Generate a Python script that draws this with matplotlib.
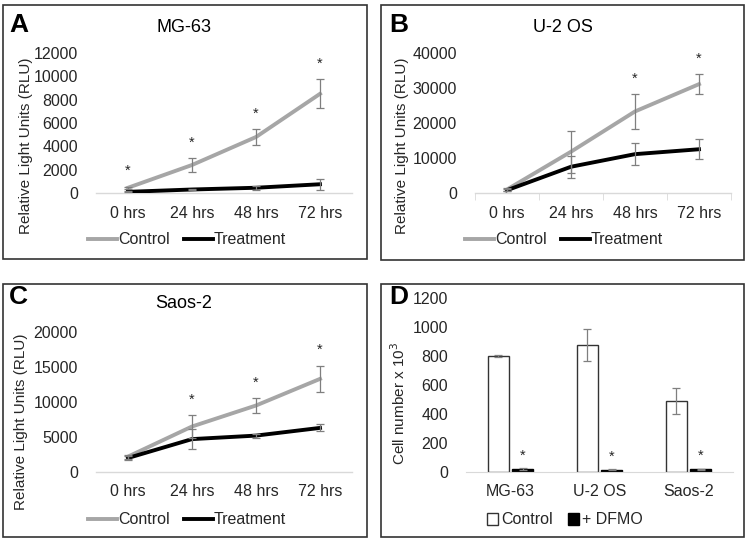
import matplotlib
matplotlib.use("Agg")
import matplotlib.pyplot as plt
from matplotlib.patches import Rectangle, Patch
import numpy as np

plt.rcParams['font.family'] = ['Liberation Sans', 'DejaVu Sans']

hours = ['0 hrs', '24 hrs', '48 hrs', '72 hrs']

# MG-63
mg_ctrl = [450, 2400, 4800, 8500]
mg_ctrl_err = [100, 600, 650, 1250]
mg_trt = [100, 300, 450, 750]
mg_trt_err = [50, 80, 150, 450]
mg_sig = [True, True, True, True]

# U-2 OS
u2_ctrl = [1000, 11800, 23300, 31100]
u2_ctrl_err = [300, 6000, 5000, 2800]
u2_trt = [800, 7500, 11100, 12500]
u2_trt_err = [300, 3200, 3100, 2900]
u2_sig = [False, False, True, True]

# Saos-2
sa_ctrl = [2200, 6500, 9500, 13300]
sa_ctrl_err = [300, 1600, 1100, 1900]
sa_trt = [2000, 4700, 5200, 6300]
sa_trt_err = [300, 1400, 300, 500]
sa_sig = [False, True, True, True]

# cell counts
cells = ['MG-63', 'U-2 OS', 'Saos-2']
cnt_ctrl = [800, 875, 490]
cnt_ctrl_err = [10, 110, 90]
cnt_dfmo = [20, 15, 18]
cnt_dfmo_err = [5, 3, 4]

W, H = 752, 544
fig = plt.figure(figsize=(7.52, 5.44), dpi=100)

def box(x0, y0, x1, y1):
    return [x0 / W, 1 - y1 / H, (x1 - x0) / W, (y1 - y0) / H]

GRAY = '#a6a6a6'
ERR = '#7f7f7f'
AX = '#d9d9d9'
TXT = '#262626'
FS = 11.5

# panel frames
for x0, y0, x1, y1 in [(3, 5, 367, 259), (381, 5, 744, 260), (3, 284, 367, 537), (381, 284, 744, 537)]:
    fig.patches.append(Rectangle((x0 / W, 1 - y1 / H), (x1 - x0) / W, (y1 - y0) / H,
                                 transform=fig.transFigure, fill=False, edgecolor='#333333', lw=1.2))


def line_panel(rect, ctrl, cerr, trt, terr, sig, ymax, ystep, title, letter, tpos, lpos, ylab, legy, ticks=False):
    ax = fig.add_axes(rect)
    x = np.arange(len(hours))
    ax.plot(x, ctrl, color=GRAY, lw=2.8, zorder=3, label='Control')
    ax.plot(x, trt, color='black', lw=2.8, zorder=3, label='Treatment')
    ax.errorbar(x, ctrl, yerr=cerr, fmt='none', ecolor=ERR, elinewidth=0.9, capsize=3, capthick=0.9, zorder=4)
    ax.errorbar(x, trt, yerr=terr, fmt='none', ecolor=ERR, elinewidth=0.9, capsize=3, capthick=0.9, zorder=4)
    for i, s in enumerate(sig):
        if s:
            ax.annotate('*', (x[i], ctrl[i] + cerr[i]), xytext=(0, 6), textcoords='offset points',
                        ha='center', va='bottom', fontsize=10.5, color=TXT)
    ax.set_xlim(-0.5, len(hours) - 0.5)
    ax.set_ylim(0, ymax)
    ax.set_yticks(np.arange(0, ymax + 1, ystep))
    ax.set_xticks(x)
    ax.set_xticklabels(hours)
    for s in ['top', 'right', 'left']:
        ax.spines[s].set_visible(False)
    ax.spines['bottom'].set_color(AX)
    ax.spines['bottom'].set_linewidth(1)
    ax.tick_params(axis='y', length=0, pad=13, labelsize=FS, labelcolor=TXT)
    ax.tick_params(axis='x', length=0, pad=9, labelsize=FS, labelcolor=TXT)
    if ticks:
        ax.set_xticks(np.arange(-0.5, len(hours)), minor=True)
        ax.tick_params(axis='x', which='minor', length=5, color=AX, direction='out')
    ax.set_ylabel('Relative Light Units (RLU)', fontsize=11, color=TXT)
    ax.yaxis.set_label_coords(*ylab)
    fig.text(tpos[0] / W, 1 - tpos[1] / H, title, ha='center', va='center', fontsize=13, color='black')
    fig.text(lpos[0] / W, 1 - lpos[1] / H, letter, ha='left', va='center', fontsize=19,
             fontweight='bold', color='black')
    ax.legend(loc='center', bbox_to_anchor=(legy[0] / W, 1 - legy[1] / H), bbox_transform=fig.transFigure,
              ncol=2, frameon=False, fontsize=FS, handlelength=1.8, handletextpad=0.05,
              columnspacing=0.9, labelcolor=TXT)
    return ax


line_panel(box(96, 53, 352, 193), mg_ctrl, mg_ctrl_err, mg_trt, mg_trt_err, mg_sig, 12000, 2000,
           'MG-63', 'A', (184, 27), (9, 25), (-0.246, 0.34), (187, 240))
line_panel(box(475, 53, 731, 193), u2_ctrl, u2_ctrl_err, u2_trt, u2_trt_err, u2_sig, 40000, 10000,
           'U-2 OS', 'B', (563, 27), (389, 25), (-0.258, 0.34), (564, 240), ticks=True)
line_panel(box(96, 332, 352, 472), sa_ctrl, sa_ctrl_err, sa_trt, sa_trt_err, sa_sig, 20000, 5000,
           'Saos-2', 'C', (184, 304), (9, 297), (-0.266, 0.357), (187, 520))

# panel D
ax = fig.add_axes(box(466, 298, 733, 472))
x = np.arange(len(cells))
bw = 0.23
ax.bar(x - 0.135, cnt_ctrl, bw, color='white', edgecolor='#333333', lw=1, zorder=2)
ax.bar(x + 0.135, cnt_dfmo, bw, color='black', edgecolor='black', lw=1, zorder=2)
ax.errorbar(x - 0.135, cnt_ctrl, yerr=cnt_ctrl_err, fmt='none', ecolor=ERR, elinewidth=0.9,
            capsize=3, capthick=0.9, zorder=3)
ax.errorbar(x + 0.135, cnt_dfmo, yerr=cnt_dfmo_err, fmt='none', ecolor=ERR, elinewidth=0.9,
            capsize=3, capthick=0.9, zorder=3)
for i in range(len(cells)):
    ax.annotate('*', (x[i] + 0.135, cnt_dfmo[i] + cnt_dfmo_err[i]), xytext=(0, 4),
                textcoords='offset points', ha='center', va='bottom', fontsize=10.5, color=TXT)
ax.set_xlim(-0.5, len(cells) - 0.5)
ax.set_ylim(0, 1200)
ax.set_yticks(np.arange(0, 1201, 200))
ax.set_xticks(x)
ax.set_xticklabels(cells)
for s in ['top', 'right', 'left']:
    ax.spines[s].set_visible(False)
ax.spines['bottom'].set_color(AX)
ax.tick_params(axis='y', length=0, pad=13, labelsize=FS, labelcolor=TXT)
ax.tick_params(axis='x', length=0, pad=9, labelsize=FS, labelcolor=TXT)
ax.set_ylabel('Cell number x 10$^3$', fontsize=11, color=TXT)
ax.yaxis.set_label_coords(-0.217, 0.397)
fig.text(389 / W, 1 - 297 / H, 'D', ha='left', va='center', fontsize=19, fontweight='bold')
handles = [Patch(facecolor='white', edgecolor='#333333'), Patch(facecolor='black', edgecolor='black')]
ax.legend(handles, ['Control', '+ DFMO'], loc='center', bbox_to_anchor=(565 / W, 1 - 520 / H),
          bbox_transform=fig.transFigure, ncol=2, frameon=False, fontsize=FS, handlelength=0.7,
          handleheight=0.7, handletextpad=0.2, columnspacing=0.9, labelcolor=TXT)

fig.savefig('out.png', dpi=100)
